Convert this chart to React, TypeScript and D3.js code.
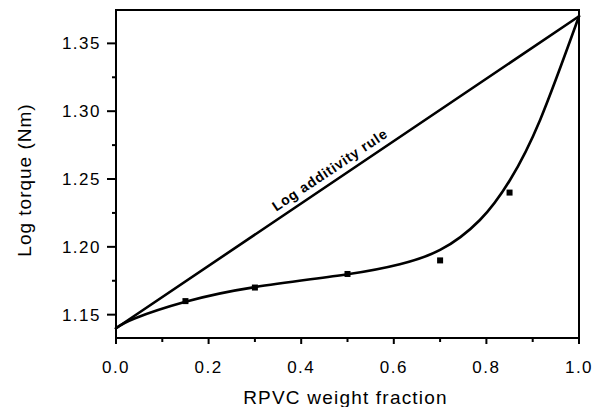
import React from "react";
import * as d3 from "d3";

const sampleX = [0.15, 0.3, 0.5, 0.7, 0.85];
const sampleY = [1.16, 1.17, 1.18, 1.19, 1.24];

const fitX = [0.0, 0.04, 0.15, 0.3, 0.5, 0.613, 0.7, 0.786, 0.851, 0.916, 1.0];
const fitY = [1.14, 1.1472, 1.1595, 1.1703, 1.1798, 1.1872, 1.1977, 1.2198, 1.2493, 1.2936, 1.37];

const ruleX = [0.0, 1.0];
const ruleY = [1.14, 1.37];

const xTicks = [0.0, 0.2, 0.4, 0.6, 0.8, 1.0];
const xMinor = [0.1, 0.3, 0.5, 0.7, 0.9];
const yTicks = [1.15, 1.2, 1.25, 1.3, 1.35];
const yMinor = [1.175, 1.225, 1.275, 1.325];

const W = 604, H = 407;
const L = 116, R = 579, T = 10, B = 338;

export default function App() {
  const x = d3.scaleLinear().domain([0, 1]).range([L, R]);
  const y = d3.scaleLinear().domain([1.1328, 1.3746]).range([B, T]);
  const line = d3.line<[number, number]>().x(d => x(d[0])).y(d => y(d[1])).curve(d3.curveNatural);
  const straight = d3.line<[number, number]>().x(d => x(d[0])).y(d => y(d[1]));
  const fit = fitX.map((v, i) => [v, fitY[i]] as [number, number]);
  const rule = ruleX.map((v, i) => [v, ruleY[i]] as [number, number]);
  const font = "'Liberation Sans', Arial, Helvetica, sans-serif";
  const ang = Math.atan2(y(ruleY[1]) - y(ruleY[0]), x(ruleX[1]) - x(ruleX[0])) * 180 / Math.PI;
  const lx = 0.476, ly = ruleY[0] + (ruleY[1] - ruleY[0]) * lx;
  return (
    <svg width={W} height={H} style={{ position: "absolute", left: 0, top: 0, background: "#fff" }}>
      <g fill="none" stroke="#000" strokeLinecap="round" strokeLinejoin="round">
        <path d={straight(rule) || ""} strokeWidth={2.6} />
        <path d={line(fit) || ""} strokeWidth={2.6} />
      </g>
      {sampleX.map((v, i) => (
        <rect key={i} x={x(v) - 3} y={y(sampleY[i]) - 3} width={6} height={6} fill="#000" />
      ))}
      <rect x={L} y={T} width={R - L} height={B - T} fill="none" stroke="#000" strokeWidth={2} />
      {xTicks.map(t => (
        <g key={"xt" + t}>
          <line x1={x(t)} x2={x(t)} y1={B} y2={B + 6} stroke="#000" strokeWidth={2} />
          <text x={x(t)} y={373} textAnchor="middle" fontFamily={font} fontSize={17} letterSpacing={1.5} fill="#000">{t.toFixed(1)}</text>
        </g>
      ))}
      {xMinor.map(t => (
        <line key={"xm" + t} x1={x(t)} x2={x(t)} y1={B} y2={B + 4} stroke="#000" strokeWidth={2} />
      ))}
      {yTicks.map(t => (
        <g key={"yt" + t}>
          <line x1={L - 9} x2={L} y1={y(t)} y2={y(t)} stroke="#000" strokeWidth={2} />
          <text x={101} y={y(t)} dy="0.36em" textAnchor="end" fontFamily={font} fontSize={17} letterSpacing={1.5} fill="#000">{t.toFixed(2)}</text>
        </g>
      ))}
      {yMinor.map(t => (
        <line key={"ym" + t} x1={L - 4} x2={L} y1={y(t)} y2={y(t)} stroke="#000" strokeWidth={2} />
      ))}
      <text x={(L + R) / 2 - 2} y={404} textAnchor="middle" fontFamily={font} fontSize={19} letterSpacing={1.2} fill="#000">RPVC weight fraction</text>
      <text transform={`translate(31,180) rotate(-90)`} textAnchor="middle" fontFamily={font} fontSize={19} letterSpacing={1.0} fill="#000">Log torque (Nm)</text>
      <text transform={`translate(${x(lx)},${y(ly)}) rotate(${ang}) translate(0,-7)`} textAnchor="middle" fontFamily={font} fontSize={14} fontWeight="bold" letterSpacing={0.8} fill="#000">Log additivity rule</text>
    </svg>
  );
}
